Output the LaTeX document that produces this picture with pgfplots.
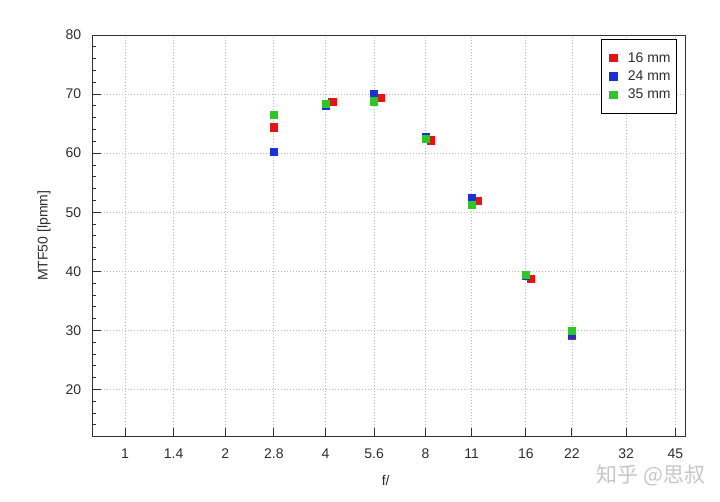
\documentclass[border=0pt]{standalone}
\usepackage{fontspec}
\setmainfont{Liberation Sans}
\newfontfamily\cjk{Noto Sans CJK SC}
\usepackage{pgfplots}
\pgfplotsset{compat=1.18}
\definecolor{sred}{RGB}{228,20,20}
\definecolor{sblue}{RGB}{25,50,215}
\definecolor{sgreen}{RGB}{45,200,40}
\definecolor{txt}{RGB}{45,45,45}
\definecolor{axc}{RGB}{50,50,50}
\begin{document}
\begin{tikzpicture}
\useasboundingbox (0,0) rectangle (720bp,502bp);
\begin{axis}[
  at={(92.3bp,65.3bp)}, anchor=south west,
  width=592.7bp, height=401.7bp, scale only axis,
  xmode=log, log basis x=2,
  xmin=0.798, xmax=48.1,
  ymin=12, ymax=80,
  xtick={1,1.4,2,2.8,4,5.6,8,11,16,22,32,45},
  xticklabels={1,1.4,2,2.8,4,5.6,8,11,16,22,32,45},
  minor x tick num=0,
  ytick={20,30,40,50,60,70,80},
  minor ytick={14,16,18,22,24,26,28,32,34,36,38,42,44,46,48,52,54,56,58,62,64,66,68,72,74,76,78},
  tick align=inside,
  xtick pos=bottom, ytick pos=left,
  major tick length=8.5bp, minor tick length=4bp,
  every tick/.style={axc, line width=0.8bp},
  axis line style={axc, line width=1bp},
  grid=major,
  major grid style={gray!55, line width=0.7bp, dash pattern=on 1bp off 2bp},
  /pgf/number format/assume math mode=true,
  tick label style={font=\fontsize{14bp}{16bp}\selectfont, text=txt},
  yticklabel style={xshift=-7.5bp},
  xticklabel style={yshift=-9bp},
  every axis y label/.style={at={(axis description cs:0,0.5)}, rotate=90, anchor=center, yshift=48.3bp, font=\fontsize{14bp}{16bp}\selectfont, text=txt},
  every axis x label/.style={at={(axis description cs:0.5,0)}, anchor=center, yshift=-44bp, xshift=-3bp, font=\fontsize{14bp}{16bp}\selectfont, text=txt},
  xlabel={f/},
  ylabel={MTF50 [lpmm]},
  legend style={at={(1,1)}, anchor=north east, xshift=-8bp, yshift=-4bp,
    draw=black, line width=0.8bp, fill=white,
    font=\fontsize{14bp}{16bp}\selectfont, text=txt,
    inner xsep=4bp, inner ysep=11.5bp, row sep=4bp,
    nodes={inner xsep=2bp, inner ysep=1.5bp}},
  legend cell align=left,
  legend image code/.code={\path[draw=none,fill=none] (0bp,-4bp) rectangle (20bp,4bp); \draw[#1] plot coordinates {(7.5bp,0bp)};},
]
\addplot[only marks, mark=square*, mark size=3.6bp, color=sred, mark options={draw=sred, fill=sred}] coordinates {
(2.8,64.4) (4.19,68.65) (5.84,69.4) (8.3,62.2) (11.47,52.0) (16.58,38.8) (22,29.1)};
\addlegendentry{16 mm}
\addplot[only marks, mark=square*, mark size=3.6bp, color=sblue, mark options={draw=sblue, fill=sblue}] coordinates {
(2.8,60.2) (4,68.1) (5.6,70.05) (8,62.75) (11,52.4) (16,39.3) (22,29.2)};
\addlegendentry{24 mm}
\addplot[only marks, mark=square*, mark size=3.6bp, color=sgreen, mark options={draw=sgreen, fill=sgreen}] coordinates {
(2.8,66.5) (4,68.4) (5.6,68.8) (8,62.5) (11,51.3) (16,39.45) (22,29.95)};
\addlegendentry{35 mm}
\end{axis}
\node[text=gray!45, font=\cjk\fontsize{21bp}{21bp}\selectfont, inner sep=0pt] at (651bp,27bp) {知乎 @思叔};
\end{tikzpicture}
\end{document}
